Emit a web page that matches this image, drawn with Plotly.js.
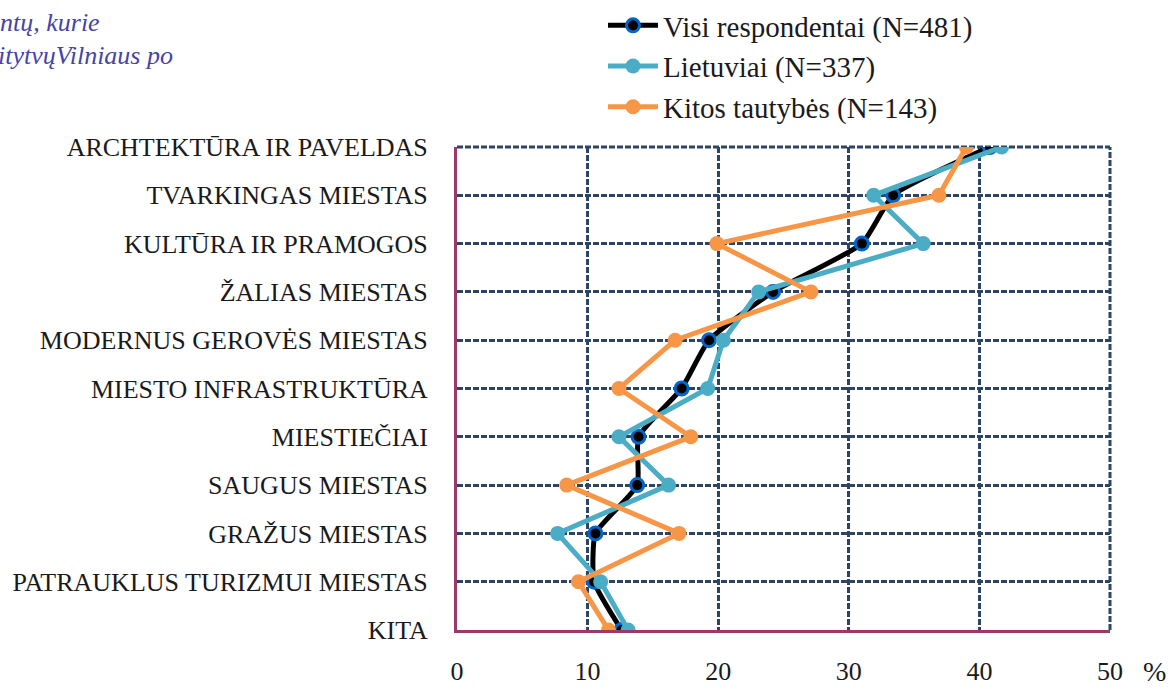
<!DOCTYPE html>
<html>
<head>
<meta charset="utf-8">
<script src="https://cdn.plot.ly/plotly-3.0.1.min.js"></script>
<style>html,body{margin:0;padding:0;background:#fff;}#chart{width:1173px;height:690px;}</style>
</head>
<body>
<div id="chart"></div>
<script>
const categories = [
  "ARCHTEKTŪRA IR PAVELDAS",
  "TVARKINGAS MIESTAS",
  "KULTŪRA IR PRAMOGOS",
  "ŽALIAS MIESTAS",
  "MODERNUS GEROVĖS MIESTAS",
  "MIESTO INFRASTRUKTŪRA",
  "MIESTIEČIAI",
  "SAUGUS MIESTAS",
  "GRAŽUS MIESTAS",
  "PATRAUKLUS TURIZMUI MIESTAS",
  "KITA"
];
const visi      = [40.8, 33.4, 31.0, 24.2, 19.3, 17.2, 13.9, 13.8, 10.6, 10.5, 12.6];
const lietuviai = [41.7, 31.9, 35.7, 23.1, 20.4, 19.2, 12.4, 16.2, 7.7, 11.0, 13.1];
const kitos     = [39.0, 36.9, 19.9, 27.1, 16.7, 12.4, 17.9, 8.4, 17.0, 9.3, 11.6];
const seriesNames = ["Visi respondentai (N=481)", "Lietuviai (N=337)", "Kitos tautybės (N=143)"];
const xTicks = [0, 10, 20, 30, 40, 50];

const SERIF = "Liberation Serif, Times New Roman, serif";

const traces = [
  {x: visi, y: categories, name: seriesNames[0], legendgroup: "a", type: "scatter", mode: "lines+markers",
   line: {color: "#000000", width: 5, shape: "spline", smoothing: 0.5},
   marker: {symbol: "circle", size: 13, color: "#000000", line: {color: "#0066CC", width: 3}}},
  {x: lietuviai, y: categories, name: seriesNames[1], legendgroup: "b", type: "scatter", mode: "lines+markers",
   line: {color: "#4BACC6", width: 5},
   marker: {symbol: "circle", size: 15, color: "#4BACC6"}},
  {x: kitos, y: categories, name: seriesNames[2], legendgroup: "c", type: "scatter", mode: "lines+markers",
   line: {color: "#F79646", width: 5},
   marker: {symbol: "circle", size: 15, color: "#F79646"}}
];

const gridColor = "#2B4468";
const axisColor = "#9B3A68";
const layout = {
  width: 1173, height: 690,
  paper_bgcolor: "#ffffff", plot_bgcolor: "#ffffff",
  margin: {l: 457, r: 63, t: 147, b: 60, pad: 0, autoexpand: false},
  font: {family: SERIF, color: "#1a1a1a"},
  showlegend: true,
  legend: {x: 603/1173, xref: "container", xanchor: "left", y: 1, yref: "container", yanchor: "top",
           font: {size: 29, color: "#1a1a1a", family: SERIF},
           tracegroupgap: 2, itemwidth: 50, bgcolor: "rgba(0,0,0,0)", traceorder: "normal"},
  xaxis: {range: [0, 50], tickvals: xTicks, ticktext: xTicks.map(String), showgrid: true,
          gridcolor: gridColor, gridwidth: 3, griddash: "6px,2px",
          zeroline: false, showline: true, linecolor: axisColor, linewidth: 3, mirror: false,
          ticks: "", ticklabelstandoff: 16, tickfont: {size: 26, color: "#1a1a1a", family: SERIF}, fixedrange: true},
  yaxis: {type: "category", categoryorder: "array", categoryarray: categories, range: [10, 0],
          showgrid: true, gridcolor: gridColor, gridwidth: 3, griddash: "6px,2px",
          zeroline: false, showline: true, linecolor: axisColor, linewidth: 3,
          ticks: "", ticklabelstandoff: 21, tickfont: {size: 26, color: "#1a1a1a", family: SERIF}, fixedrange: true},
  shapes: [
    {type: "line", xref: "paper", yref: "paper", x0: 0, x1: 1, y0: 1, y1: 1, layer: "below",
     line: {color: gridColor, width: 3, dash: "6px,2px"}},
    {type: "line", xref: "paper", yref: "paper", x0: 1, x1: 1, y0: 0, y1: 1, layer: "below",
     line: {color: gridColor, width: 3, dash: "6px,2px"}}
  ],
  annotations: [
    {text: "%", xref: "paper", yref: "paper", x: 1, y: 0, xshift: 44, yshift: -24, showarrow: false,
     font: {size: 28, color: "#1a1a1a", family: SERIF}, xanchor: "center", yanchor: "top"},
    {text: "<i>ntų, kurie</i>", xref: "paper", yref: "paper", x: -457/653, y: 1, xshift: -2, yshift: 147-6, showarrow: false,
     xanchor: "left", yanchor: "top", font: {size: 26, color: "#4444A8", family: SERIF}},
    {text: "<i>itytvųVilniaus po</i>", xref: "paper", yref: "paper", x: -457/653, y: 1, xshift: -4, yshift: 147-39, showarrow: false,
     xanchor: "left", yanchor: "top", font: {size: 26, color: "#4444A8", family: SERIF}}
  ]
};
Plotly.newPlot("chart", traces, layout, {staticPlot: true, displayModeBar: false});
</script>
</body>
</html>
